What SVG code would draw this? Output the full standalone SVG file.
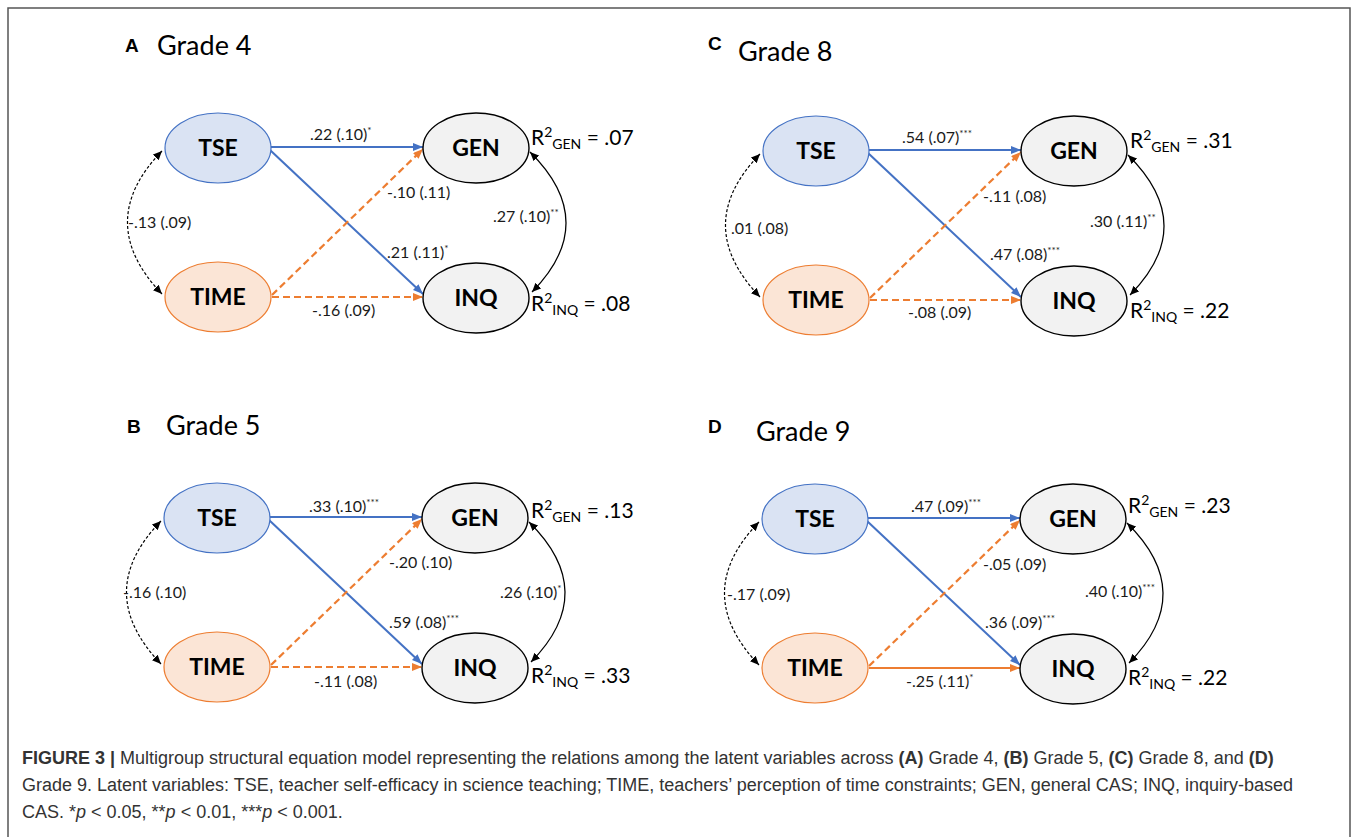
<svg xmlns="http://www.w3.org/2000/svg" width="1357" height="837" viewBox="0 0 1357 837">
<defs>
<marker id="ab" viewBox="0 0 10 8" refX="10" refY="4" markerWidth="10" markerHeight="8" markerUnits="userSpaceOnUse" orient="auto"><path d="M0,0 L10,4 L0,8 z" fill="#4472C4"/></marker>
<marker id="ao" viewBox="0 0 10 8" refX="10" refY="4" markerWidth="10" markerHeight="8" markerUnits="userSpaceOnUse" orient="auto"><path d="M0,0 L10,4 L0,8 z" fill="#ED7D31"/></marker>
<marker id="ak" viewBox="0 0 9 8" refX="9" refY="4" markerWidth="9" markerHeight="8" markerUnits="userSpaceOnUse" orient="auto-start-reverse"><path d="M0,0 L9,4 L0,8 z" fill="#000"/></marker>
</defs>
<style>
.tse{fill:#DAE3F3;stroke:#4472C4;stroke-width:1.2}
.time{fill:#FBE5D6;stroke:#ED7D31;stroke-width:1.2}
.dep{fill:#F2F2F2;stroke:#000;stroke-width:1.4}
.nl{font-family:Lato,"Liberation Sans",sans-serif;font-weight:bold;font-size:23px;text-anchor:middle;fill:#000}
.el{font-family:Lato,"Liberation Sans",sans-serif;font-size:16px;fill:#1a1a1a}
.sup{font-size:10px}
.r2{font-family:Lato,"Liberation Sans",sans-serif;font-size:21px;fill:#000}
.ss{font-size:14px}
.pl{font-family:"Liberation Sans",Arial,sans-serif;font-weight:bold;font-size:19px;fill:#000}
.gt{font-family:Lato,"Liberation Sans",sans-serif;font-size:27px;fill:#000}
.bl{stroke:#4472C4;stroke-width:2;fill:none;marker-end:url(#ab)}
.od{stroke:#ED7D31;stroke-width:2.2;stroke-dasharray:7 4;fill:none;marker-end:url(#ao)}
.os{stroke:#ED7D31;stroke-width:2;fill:none;marker-end:url(#ao)}
.cl{stroke:#000;stroke-width:1.2;stroke-dasharray:3 2;fill:none;marker-start:url(#ak);marker-end:url(#ak)}
.cr{stroke:#000;stroke-width:1.2;fill:none;marker-start:url(#ak);marker-end:url(#ak)}
.cap{font-family:"Liberation Sans",Arial,sans-serif;font-size:18px;fill:#333}
</style>
<rect x="0" y="0" width="1357" height="837" fill="#fff"/>
<rect x="8" y="8" width="1342" height="840" fill="none" stroke="#555" stroke-width="1.5"/>

<!-- Panel A -->
<g id="panel-A" transform="translate(0,0)">
<text class="pl" x="125" y="52">A</text>
<text class="gt" x="157" y="55">Grade 4</text>
<g id="A-connectors">
<path class="bl" d="M271,147 L423,147"/>
<path class="bl" d="M270,150 L423,294"/>
<path class="od" d="M272,295 L423,149"/>
<path class="od" d="M272,297 L423,297"/>
<path class="cl" d="M162,151 Q93,222 162,294"/>
<path class="cr" d="M530,152 Q601,222 532,292"/>
</g>
<g id="A-TSE"><ellipse class="tse" cx="218" cy="148" rx="53" ry="35"/><text class="nl" x="218" y="156">TSE</text></g>
<g id="A-TIME"><ellipse class="time" cx="218" cy="297" rx="53" ry="35"/><text class="nl" x="218" y="305">TIME</text></g>
<g id="A-GEN"><ellipse class="dep" cx="476" cy="148" rx="53" ry="35"/><text class="nl" x="476" y="156">GEN</text></g>
<g id="A-INQ"><ellipse class="dep" cx="476" cy="298" rx="53" ry="35"/><text class="nl" x="476" y="306">INQ</text></g>
<text class="el" x="310" y="140">.22 (.10)<tspan class="sup" dy="-6">*</tspan></text>
<text class="el" x="387" y="198">-.10 (.11)</text>
<text class="el" x="387" y="258">.21 (.11)<tspan class="sup" dy="-6">*</tspan></text>
<text class="el" x="312" y="316">-.16 (.09)</text>
<text class="el" x="128" y="228">-.13 (.09)</text>
<text class="el" x="493" y="222">.27 (.10)<tspan class="sup" dy="-6">**</tspan></text>
<text class="r2" x="531" y="145">R<tspan class="ss" dy="-8">2</tspan><tspan class="ss" dy="12">GEN</tspan><tspan dy="-4"> = .07</tspan></text>
<text class="r2" x="531" y="311">R<tspan class="ss" dy="-8">2</tspan><tspan class="ss" dy="12">INQ</tspan><tspan dy="-4"> = .08</tspan></text>
</g>

<!-- Panel C -->
<g id="panel-C" transform="translate(598,3)">
<text class="pl" x="110" y="47">C</text>
<text class="gt" x="140" y="58">Grade 8</text>
<g id="C-connectors">
<path class="bl" d="M271,147 L423,147"/>
<path class="bl" d="M270,150 L423,294"/>
<path class="od" d="M272,295 L423,149"/>
<path class="od" d="M272,297 L423,297"/>
<path class="cl" d="M162,151 Q93,222 162,294"/>
<path class="cr" d="M530,152 Q601,222 532,292"/>
</g>
<g id="C-TSE"><ellipse class="tse" cx="218" cy="148" rx="53" ry="35"/><text class="nl" x="218" y="156">TSE</text></g>
<g id="C-TIME"><ellipse class="time" cx="218" cy="297" rx="53" ry="35"/><text class="nl" x="218" y="305">TIME</text></g>
<g id="C-GEN"><ellipse class="dep" cx="476" cy="148" rx="53" ry="35"/><text class="nl" x="476" y="156">GEN</text></g>
<g id="C-INQ"><ellipse class="dep" cx="476" cy="298" rx="53" ry="35"/><text class="nl" x="476" y="306">INQ</text></g>
<text class="el" x="304" y="140">.54 (.07)<tspan class="sup" dy="-6">***</tspan></text>
<text class="el" x="385" y="199">-.11 (.08)</text>
<text class="el" x="392" y="257">.47 (.08)<tspan class="sup" dy="-6">***</tspan></text>
<text class="el" x="310" y="315">-.08 (.09)</text>
<text class="el" x="133" y="231">.01 (.08)</text>
<text class="el" x="492" y="224">.30 (.11)<tspan class="sup" dy="-6">**</tspan></text>
<text class="r2" x="532" y="145">R<tspan class="ss" dy="-8">2</tspan><tspan class="ss" dy="12">GEN</tspan><tspan dy="-4"> = .31</tspan></text>
<text class="r2" x="532" y="315">R<tspan class="ss" dy="-8">2</tspan><tspan class="ss" dy="12">INQ</tspan><tspan dy="-4"> = .22</tspan></text>
</g>

<!-- Panel B -->
<g id="panel-B" transform="translate(-1,370)">
<text class="pl" x="128" y="63">B</text>
<text class="gt" x="167" y="65">Grade 5</text>
<g id="B-connectors">
<path class="bl" d="M271,147 L423,147"/>
<path class="bl" d="M270,150 L423,294"/>
<path class="od" d="M272,295 L423,149"/>
<path class="od" d="M272,297 L423,297"/>
<path class="cl" d="M162,151 Q93,222 162,294"/>
<path class="cr" d="M530,152 Q601,222 532,292"/>
</g>
<g id="B-TSE"><ellipse class="tse" cx="218" cy="148" rx="53" ry="35"/><text class="nl" x="218" y="156">TSE</text></g>
<g id="B-TIME"><ellipse class="time" cx="218" cy="297" rx="53" ry="35"/><text class="nl" x="218" y="305">TIME</text></g>
<g id="B-GEN"><ellipse class="dep" cx="476" cy="148" rx="53" ry="35"/><text class="nl" x="476" y="156">GEN</text></g>
<g id="B-INQ"><ellipse class="dep" cx="476" cy="298" rx="53" ry="35"/><text class="nl" x="476" y="306">INQ</text></g>
<text class="el" x="310" y="142">.33 (.10)<tspan class="sup" dy="-6">***</tspan></text>
<text class="el" x="390" y="198">-.20 (.10)</text>
<text class="el" x="390" y="258">.59 (.08)<tspan class="sup" dy="-6">***</tspan></text>
<text class="el" x="315" y="317">-.11 (.08)</text>
<text class="el" x="124" y="228">-.16 (.10)</text>
<text class="el" x="501" y="228">.26 (.10)<tspan class="sup" dy="-6">*</tspan></text>
<text class="r2" x="532" y="148">R<tspan class="ss" dy="-8">2</tspan><tspan class="ss" dy="12">GEN</tspan><tspan dy="-4"> = .13</tspan></text>
<text class="r2" x="532" y="313">R<tspan class="ss" dy="-8">2</tspan><tspan class="ss" dy="12">INQ</tspan><tspan dy="-4"> = .33</tspan></text>
</g>

<!-- Panel D -->
<g id="panel-D" transform="translate(597,371)">
<text class="pl" x="111" y="62">D</text>
<text class="gt" x="159" y="70">Grade 9</text>
<g id="D-connectors">
<path class="bl" d="M271,147 L423,147"/>
<path class="bl" d="M270,150 L423,294"/>
<path class="od" d="M272,295 L423,149"/>
<path class="os" d="M272,297 L423,297"/>
<path class="cl" d="M162,151 Q93,222 162,294"/>
<path class="cr" d="M530,152 Q601,222 532,292"/>
</g>
<g id="D-TSE"><ellipse class="tse" cx="218" cy="148" rx="53" ry="35"/><text class="nl" x="218" y="156">TSE</text></g>
<g id="D-TIME"><ellipse class="time" cx="218" cy="297" rx="53" ry="35"/><text class="nl" x="218" y="305">TIME</text></g>
<g id="D-GEN"><ellipse class="dep" cx="476" cy="148" rx="53" ry="35"/><text class="nl" x="476" y="156">GEN</text></g>
<g id="D-INQ"><ellipse class="dep" cx="476" cy="298" rx="53" ry="35"/><text class="nl" x="476" y="306">INQ</text></g>
<text class="el" x="314" y="141">.47 (.09)<tspan class="sup" dy="-6">***</tspan></text>
<text class="el" x="386" y="199">-.05 (.09)</text>
<text class="el" x="388" y="257">.36 (.09)<tspan class="sup" dy="-6">***</tspan></text>
<text class="el" x="309" y="316">-.25 (.11)<tspan class="sup" dy="-6">*</tspan></text>
<text class="el" x="130" y="229">-.17 (.09)</text>
<text class="el" x="488" y="226">.40 (.10)<tspan class="sup" dy="-6">***</tspan></text>
<text class="r2" x="531" y="142">R<tspan class="ss" dy="-8">2</tspan><tspan class="ss" dy="12">GEN</tspan><tspan dy="-4"> = .23</tspan></text>
<text class="r2" x="531" y="314">R<tspan class="ss" dy="-8">2</tspan><tspan class="ss" dy="12">INQ</tspan><tspan dy="-4"> = .22</tspan></text>
</g>

<!-- Caption -->
<g id="caption">
<text class="cap" x="22" y="764"><tspan font-weight="bold">FIGURE 3 |</tspan> Multigroup structural equation model representing the relations among the latent variables across <tspan font-weight="bold">(A)</tspan> Grade 4, <tspan font-weight="bold">(B)</tspan> Grade 5, <tspan font-weight="bold">(C)</tspan> Grade 8, and <tspan font-weight="bold">(D)</tspan></text>
<text class="cap" x="22" y="791">Grade 9. Latent variables: TSE, teacher self-efficacy in science teaching; TIME, teachers’ perception of time constraints; GEN, general CAS; INQ, inquiry-based</text>
<text class="cap" x="22" y="818">CAS. *<tspan font-style="italic">p</tspan> &lt; 0.05, **<tspan font-style="italic">p</tspan> &lt; 0.01, ***<tspan font-style="italic">p</tspan> &lt; 0.001.</text>
</g>
</svg>
